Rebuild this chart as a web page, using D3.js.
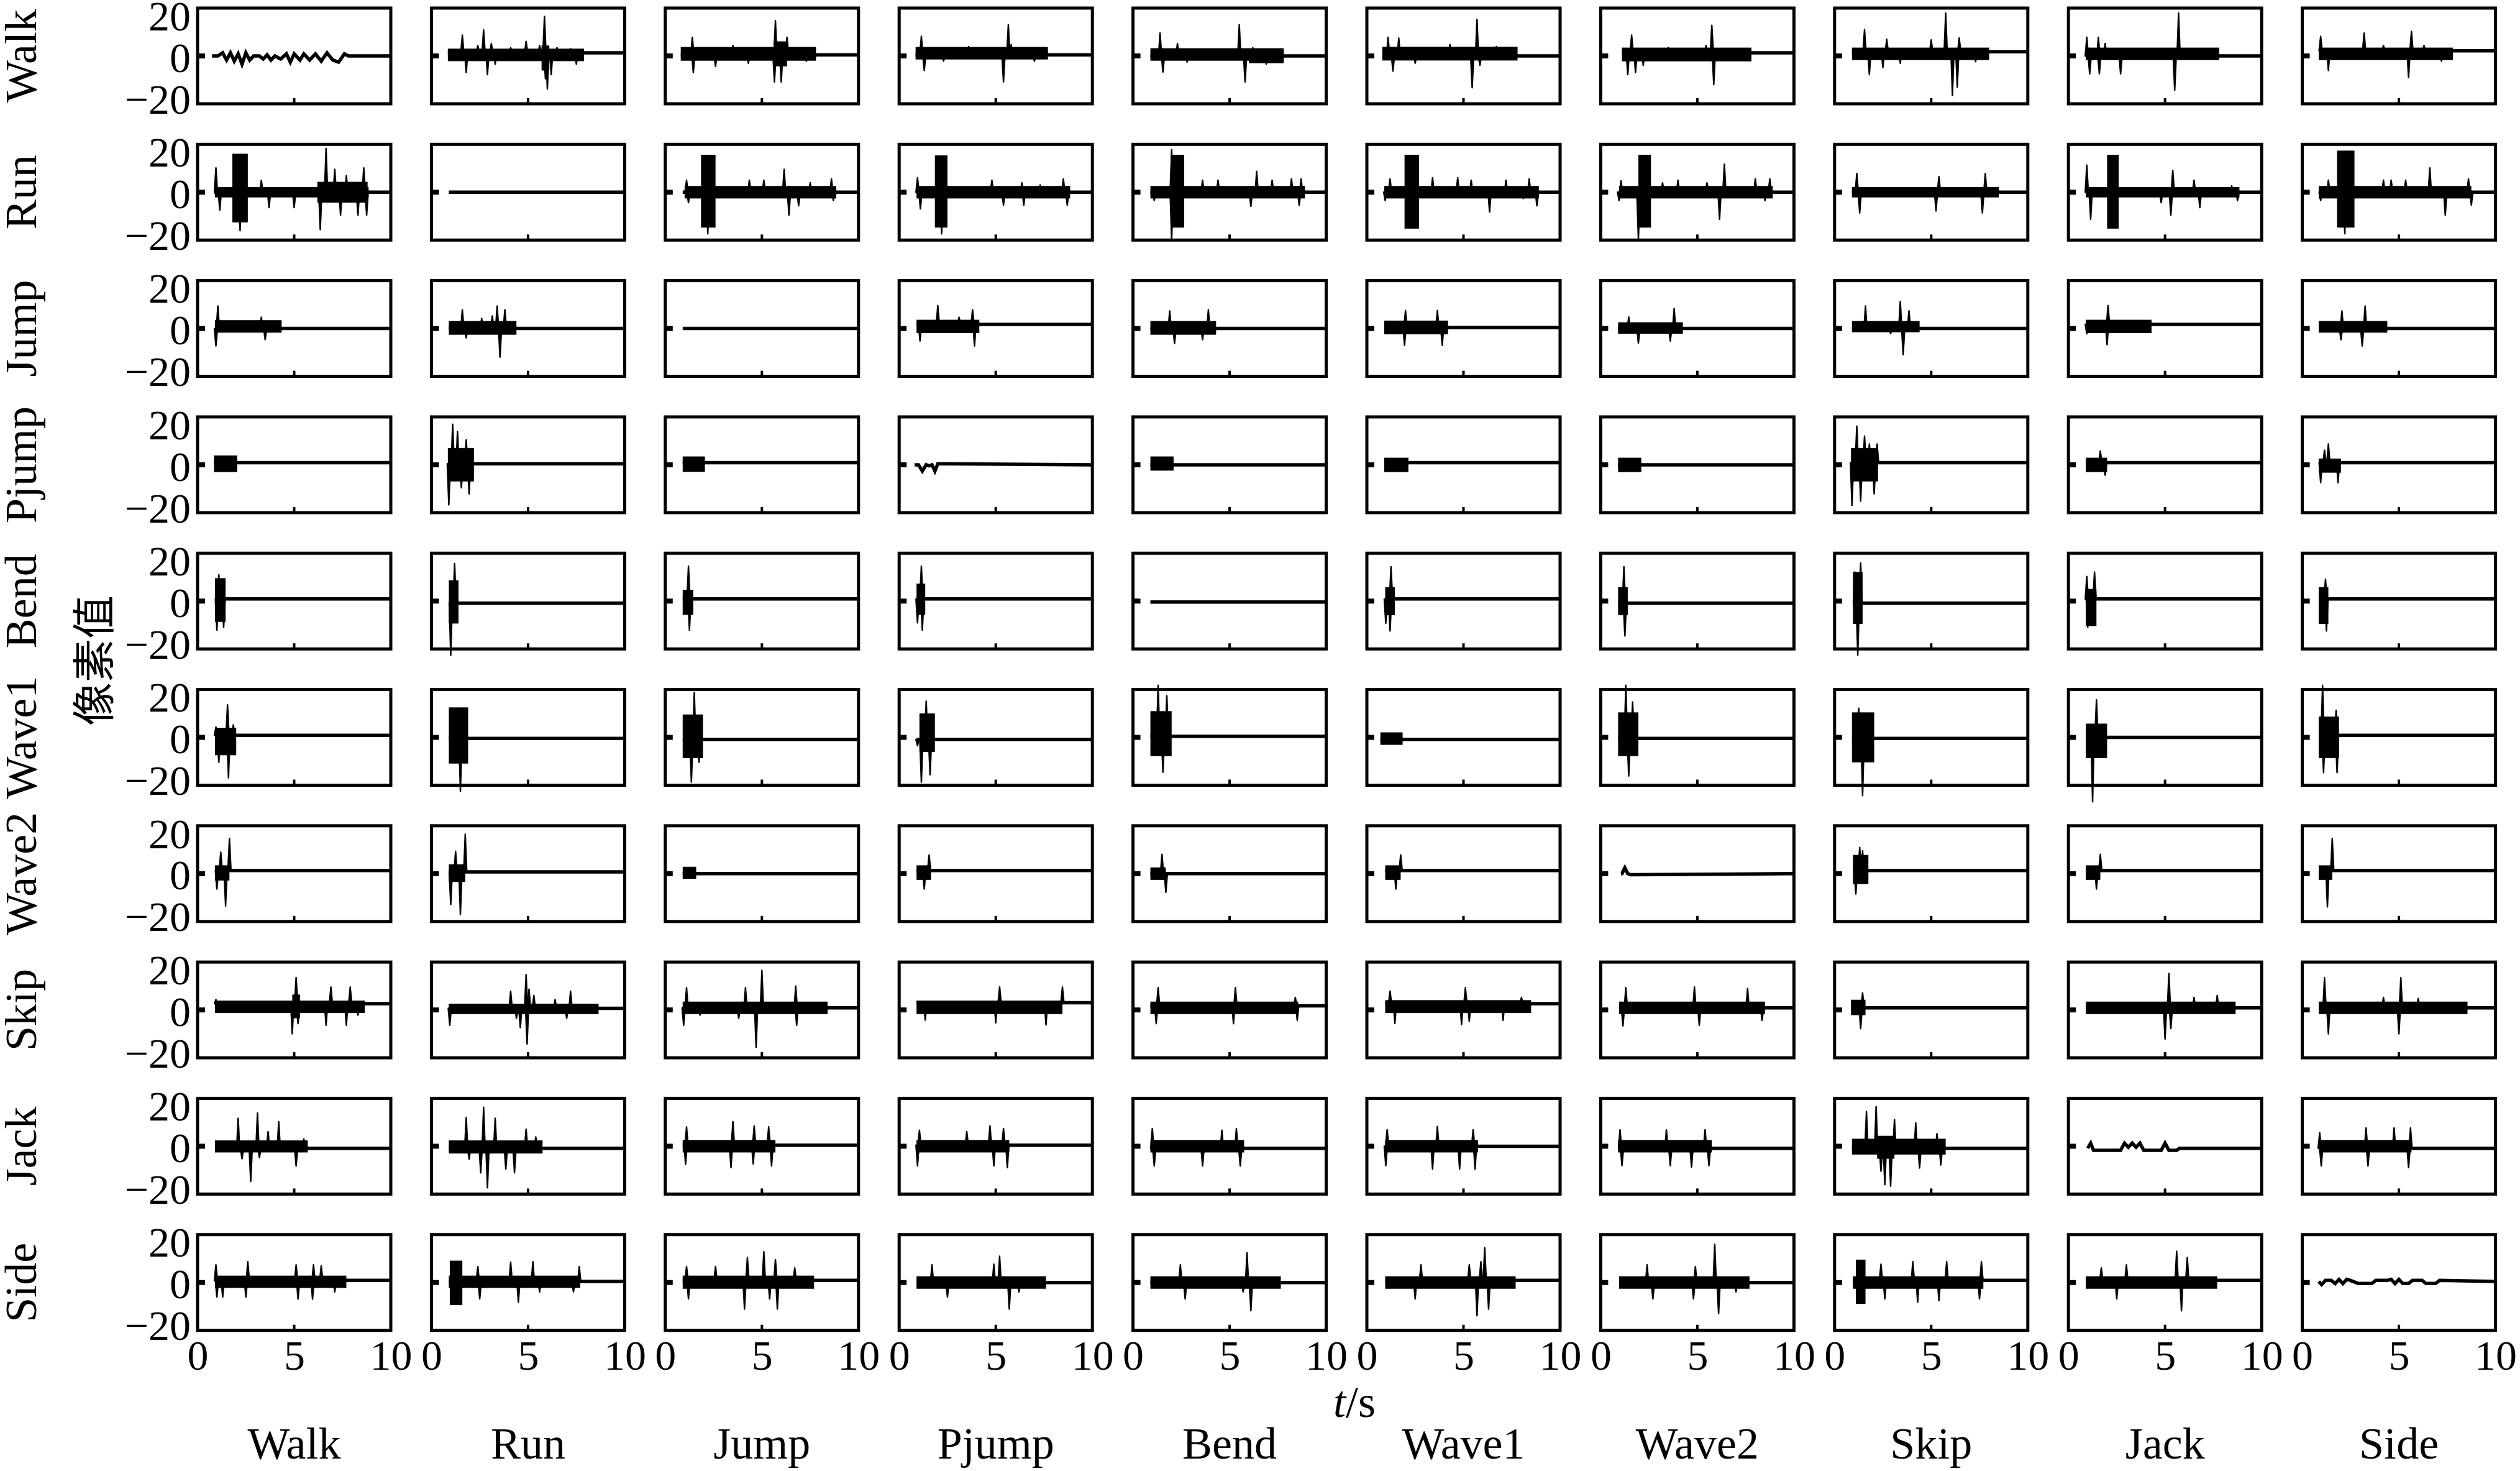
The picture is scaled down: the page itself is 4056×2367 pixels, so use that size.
<!DOCTYPE html>
<html>
<head>
<meta charset="utf-8">
<script src="https://cdn.jsdelivr.net/npm/d3@7"></script>
<style>
  body { margin: 0; background: #fff; }
  svg { display: block; }
  text { fill: #000; }
</style>
</head>
<body>
<div id="grid_plot"></div>
<script>
// Row / column action names and tick labels
const rowNames = ["Walk", "Run", "Jump", "Pjump", "Bend", "Wave1", "Wave2", "Skip", "Jack", "Side"];
const colNames = ["Walk", "Run", "Jump", "Pjump", "Bend", "Wave1", "Wave2", "Skip", "Jack", "Side"];
const xTicks = [0, 5, 10];
const yTicks = [-20, 0, 20];

// Each panel: start time of the trace, flat level, dense noise bands [t0, t1, lo, hi],
// spikes [t, value], and for the quiet diagonal panels a plain trace of [t, value] points
const walkRow = [
  {start: 0.75, base: 0, bands: [], spikes: [], trace: [[1.05,0],[1.3,1.5],[1.5,-2],[1.7,1.5],[1.9,-2.5],[2.1,1],[2.3,-4],[2.5,1.5],[2.7,-2],[2.9,0],[3.2,0],[3.4,-1.5],[3.6,0.5],[3.8,-2],[4.0,0],[4.3,-1.5],[4.6,1],[4.8,-3],[5.0,1],[5.3,-2],[5.5,1],[5.8,-2],[6.1,1],[6.4,-2.5],[6.7,1.5],[7.0,-2],[7.3,-3],[7.6,1],[7.8,0]]},
  {start: 0.85, base: 1.5, bands: [[0.85,7.9,-2.5,3.5],[5.7,6.1,-7,5]], spikes: [[1.6,10],[1.8,-8],[2.4,5],[2.7,12.5],[2.9,-9],[3.1,6],[3.3,-4],[4.1,4],[4.9,7],[5.6,5],[5.85,19],[5.9,-11],[6.0,-16],[6.2,-9],[6.5,4],[7.2,3.5],[7.5,-4]]},
  {start: 0.8, base: 0.5, bands: [[0.8,7.8,-2.3,4.3],[5.6,6.3,-5,7]], spikes: [[1.4,9],[1.45,-8],[2.6,-5],[3.5,5],[4.3,-3.5],[5.7,17],[5.65,-12.5],[6.0,-12.5],[6.3,9],[7.3,-2.5]]},
  {start: 0.85, base: 0.5, bands: [[0.85,7.7,-1.7,4.3]], spikes: [[1.15,9.4],[1.3,-7],[2.3,-2.5],[3.6,4.5],[5.4,-12.5],[5.65,15],[5.8,5.5],[7.0,-2.5]]},
  {start: 0.9, base: 0, bands: [[0.9,7.8,-2.3,3.7],[6.0,7.8,-3.5,3]], spikes: [[1.4,11],[1.55,-7.7],[2.3,6],[2.8,-3],[5.5,15],[5.8,-12.5],[6.2,4],[6.9,-4]]},
  {start: 0.8, base: 0, bands: [[0.8,7.8,-2.2,4.4]], spikes: [[1.1,9],[1.35,-7.3],[1.65,8.6],[2.5,-3.5],[4.3,5.5],[5.45,-15.3],[5.7,17.6],[5.85,-4.5],[6.7,4.5]]},
  {start: 1.1, base: 1.5, bands: [[1.1,7.8,-2.6,4]], spikes: [[1.4,-9],[1.6,10],[1.8,-8],[2.2,-4.5],[3.5,4],[5.45,5],[5.75,14.7],[5.85,-13.8],[6.5,3.5]]},
  {start: 0.9, base: 2, bands: [[0.9,8.0,-2,4]], spikes: [[1.55,12.6],[1.8,-9],[2.5,-5.6],[2.7,8],[3.4,-3.5],[5.0,7.7],[5.75,20.6],[6.1,-19],[6.35,-15],[6.45,8.6],[7.3,-2.8]]},
  {start: 0.9, base: 0, bands: [[0.9,7.8,-2,4]], spikes: [[0.95,9],[1.1,-8.6],[1.55,9],[1.6,-8.6],[1.9,6],[2.7,-8.6],[5.5,-16.5],[5.7,20.6]]},
  {start: 0.85, base: 2.5, bands: [[0.85,7.8,-2,4]], spikes: [[0.95,9.4],[1.35,-7],[3.2,11],[4.2,5],[5.5,-10.4],[5.65,11.8],[6.3,5],[7.2,-2.5]]}
];

const runRow = [
  {start: 0.87, base: 0, bands: [[0.9,8.85,-2.5,2.5],[1.8,2.6,-14.5,18.5],[6.2,8.8,-5,5]], spikes: [[0.95,11.7],[1.15,-8.6],[2.2,-18.5],[3.3,5.7],[3.7,-7.4],[5.0,-7.4],[6.35,-18],[6.65,21],[7.1,11],[7.4,-11],[7.7,8],[8.3,-11],[8.6,11.7],[8.75,-11]]},
  {start: 0.9, base: 0, bands: [], spikes: []},
  {start: 0.9, base: 0, bands: [[1.0,8.85,-3,3],[1.85,2.6,-17,18]], spikes: [[1.1,5.8],[1.2,-5],[2.2,-20],[4.35,5.8],[5.1,5.8],[6.15,11],[6.4,-11],[6.9,-6.5],[7.5,4.5],[8.6,6.4],[8.7,-4]]},
  {start: 0.88, base: 0, bands: [[0.9,8.85,-3,3],[1.85,2.5,-17,17.7]], spikes: [[0.95,7],[1.1,-8],[2.2,-20],[4.8,5.8],[5.4,-6.2],[6.35,4.5],[6.45,-6.2],[7.3,3.5],[8.5,6.4],[8.7,-6.2]]},
  {start: 0.9, base: 0, bands: [[0.9,8.9,-3,3],[1.95,2.65,-17,18]], spikes: [[1.1,-4],[2.0,20.4],[2.0,-23],[3.6,5.8],[4.4,5.8],[6.1,-6.8],[6.4,10],[7.2,5.8],[8.2,6.4],[8.6,-6.2],[8.7,6.4]]},
  {start: 0.9, base: 0, bands: [[0.9,8.9,-3,3],[1.95,2.7,-17.5,18]], spikes: [[0.95,-4],[1.2,6.4],[3.4,7],[4.7,7],[5.4,5.8],[6.35,-9.5],[7.2,5.8],[8.1,-3],[8.4,6.4],[8.8,-6.5]]},
  {start: 0.95, base: 0, bands: [[0.95,8.9,-3,3],[1.95,2.6,-17,18]], spikes: [[1.05,5.5],[0.95,-4],[1.95,-23],[3.2,4.5],[4.0,5.8],[5.5,4.5],[6.15,-13],[6.4,13.5],[8.0,6.4],[8.5,-4],[8.75,6.4]]},
  {start: 0.9, base: 0, bands: [[0.9,8.5,-2.5,2.5]], spikes: [[1.15,9],[1.3,-10],[5.25,-9],[5.4,7.5],[7.65,-10],[7.8,9]]},
  {start: 0.9, base: 0, bands: [[0.9,8.85,-2.5,2.5],[2.0,2.6,-17.5,18]], spikes: [[0.95,13],[1.15,-13],[4.8,-5],[5.3,-11],[5.4,10.5],[6.5,5.8],[6.8,-7.4],[8.45,3],[8.75,-4]]},
  {start: 0.85, base: 0, bands: [[0.85,8.75,-3,3],[1.8,2.7,-17,20]], spikes: [[0.95,-4],[1.35,5.8],[2.2,-20],[4.2,5.8],[4.6,5.8],[5.35,5.8],[6.6,11.7],[7.4,-11],[8.6,6.4],[8.75,-6.2]]}
];

const jumpRow = [
  {start: 0.9, base: 0, bands: [[0.9,4.35,-2,4]], spikes: [[1.05,10.8],[0.95,-8.4],[3.3,5.4],[3.5,-5.4]]},
  {start: 0.9, base: 0, bands: [[0.9,4.4,-3,3.6]], spikes: [[1.6,9],[1.8,-4.5],[2.6,4.8],[3.15,6],[3.4,10.8],[3.55,-13.8],[3.8,9]]},
  {start: 0.9, base: 0, bands: [], spikes: []},
  {start: 0.9, base: 2, bands: [[0.9,4.15,-2.2,4.2]], spikes: [[1.08,-6],[2.0,11],[3.1,5.4],[3.8,9],[3.9,-8.4]]},
  {start: 0.9, base: 0, bands: [[0.9,4.3,-3,3.6]], spikes: [[1.9,8.4],[2.15,-7.2],[3.6,-5.4],[3.9,9]]},
  {start: 0.9, base: 0.5, bands: [[0.9,4.2,-2.8,3.8]], spikes: [[1.95,-8.1],[2.0,8.6],[3.65,8.6],[3.9,-8.1]]},
  {start: 0.9, base: 0, bands: [[0.9,4.25,-2.5,3]], spikes: [[1.45,5.5],[1.95,-7],[3.6,-6],[3.8,9.6]]},
  {start: 0.9, base: 0, bands: [[0.9,4.4,-1.8,3.6]], spikes: [[1.6,10.8],[2.9,-2.5],[3.4,13],[3.55,-12.6],[3.85,8.5]]},
  {start: 0.9, base: 2, bands: [[0.9,4.3,-2.2,4.2]], spikes: [[0.95,-2.5],[2.05,11],[2.0,-7.8]]},
  {start: 0.85, base: 0, bands: [[0.85,4.4,-2,3.6]], spikes: [[2.0,-5.4],[2.05,8.4],[3.25,10.8],[3.1,-8.4]]}
];

const pjumpRow = [
  {start: 0.85, base: 1, bands: [[0.85,2.05,-3.5,4.5]], spikes: []},
  {start: 0.85, base: 0.5, bands: [[0.85,2.2,-8,8]], spikes: [[0.9,-19.3],[1.1,19.5],[1.35,16],[1.55,-11],[1.8,12],[1.95,-14]]},
  {start: 0.9, base: 1, bands: [[0.9,2.05,-3.4,4]], spikes: []},
  {start: 0.8, base: 0, bands: [], spikes: [], trace: [[1.0,0],[1.2,-3],[1.4,0],[1.55,-0.5],[1.7,0],[1.85,-3],[2.0,0.5]]},
  {start: 0.9, base: 0, bands: [[0.9,2.1,-2.8,4]], spikes: []},
  {start: 0.9, base: 1, bands: [[0.9,2.15,-3.5,3.4]], spikes: []},
  {start: 0.9, base: 0, bands: [[0.9,2.1,-3.5,3.4]], spikes: []},
  {start: 0.85, base: 1, bands: [[0.85,2.25,-8,8]], spikes: [[0.9,-19.5],[1.15,18.6],[1.35,-17.5],[1.55,13.8],[1.8,10],[2.05,-14],[2.2,10]]},
  {start: 0.9, base: 1, bands: [[0.9,2.0,-3.5,3.4]], spikes: [[1.65,6.6],[1.9,-5]]},
  {start: 0.85, base: 1, bands: [[0.85,2.0,-3.8,3]], spikes: [[0.95,-8.6],[1.15,7],[1.35,10],[1.85,-8.6]]}
];

const bendRow = [
  {start: 0.9, base: 1, bands: [[0.9,1.45,-10,11]], spikes: [[1.0,-14],[1.1,12.6],[1.35,-12.6]]},
  {start: 0.9, base: -1, bands: [[0.9,1.4,-10.8,10]], spikes: [[1.0,-26],[1.2,18]]},
  {start: 0.9, base: 1, bands: [[0.9,1.45,-6.6,5.4]], spikes: [[1.2,16.8],[1.25,-14]]},
  {start: 0.9, base: 1, bands: [[0.9,1.35,-6.6,8.4]], spikes: [[0.95,-10.5],[1.15,16.8],[1.2,-14]]},
  {start: 0.9, base: -0.5, bands: [], spikes: []},
  {start: 0.95, base: 1, bands: [[0.95,1.45,-6.8,6.7]], spikes: [[0.98,-10.7],[1.25,16.5],[1.2,-14.4]]},
  {start: 0.9, base: -1, bands: [[0.9,1.4,-6.8,6.7]], spikes: [[1.2,16.5],[1.25,-16.8]]},
  {start: 0.95, base: -1, bands: [[0.95,1.45,-11,14]], spikes: [[1.05,14],[1.2,-26],[1.35,18.3]]},
  {start: 0.9, base: 1, bands: [[0.9,1.45,-12,5.8]], spikes: [[0.95,11.8],[1.0,-12.6],[1.35,14]]},
  {start: 0.85, base: 1, bands: [[0.85,1.35,-11,6.7]], spikes: [[1.2,10.5],[1.25,-14.4]]}
];

const wave1Row = [
  {start: 0.9, base: 1, bands: [[0.9,2.0,-8.6,4.6]], spikes: [[0.95,5],[1.1,-12],[1.55,15.6],[1.6,-19.5],[1.85,6]]},
  {start: 0.9, base: -0.5, bands: [[0.9,1.9,-12.6,14.4]], spikes: [[1.5,-26]]},
  {start: 0.9, base: -1, bands: [[0.9,1.95,-10,11]], spikes: [[1.35,-21.6],[1.5,21.6],[1.75,-12]]},
  {start: 0.9, base: -1, bands: [[1.05,1.85,-7,11.5]], spikes: [[0.95,-4],[1.15,-21.6],[1.4,17.4],[1.6,-18]]},
  {start: 0.9, base: 0.5, bands: [[0.9,2.0,-9,12.6]], spikes: [[1.3,25],[1.55,-16.8],[1.75,20]]},
  {start: 0.7, base: -1, bands: [[0.7,1.85,-3.6,2.4]], spikes: []},
  {start: 0.9, base: -0.5, bands: [[0.9,1.95,-9,12]], spikes: [[1.3,25],[1.45,-18.6],[1.65,17]]},
  {start: 0.9, base: -0.5, bands: [[0.9,2.05,-12,12]], spikes: [[1.45,-28],[1.25,14]]},
  {start: 0.9, base: 0, bands: [[0.9,2.0,-10,6.6]], spikes: [[1.25,-31],[1.45,18]]},
  {start: 0.85, base: 1, bands: [[0.85,1.9,-10,10]], spikes: [[1.05,25],[1.1,-17],[1.75,13],[1.8,-17]]}
];

const wave2Row = [
  {start: 0.9, base: 1.5, bands: [[0.9,1.65,-3.3,4]], spikes: [[1.0,-7.4],[1.2,10.3],[1.45,-15.6],[1.65,16.9]]},
  {start: 0.9, base: 0.8, bands: [[0.9,1.75,-4,4.5]], spikes: [[1.0,-14.8],[1.25,10.7],[1.5,-19.7],[1.75,19]]},
  {start: 0.9, base: 0, bands: [[0.9,1.6,-2.5,3.3]], spikes: []},
  {start: 0.9, base: 1.5, bands: [[0.9,1.65,-3,4]], spikes: [[1.3,-7.4],[1.55,9]]},
  {start: 0.9, base: 0, bands: [[0.9,1.7,-3,3]], spikes: [[1.5,9.3],[1.7,-9]]},
  {start: 0.95, base: 1.5, bands: [[0.95,1.75,-3,4]], spikes: [[1.15,-2.5],[1.5,-7.4],[1.75,9]]},
  {start: 1.05, base: 0, bands: [], spikes: [], trace: [[1.1,0],[1.25,2.8],[1.4,0],[1.55,-0.5]]},
  {start: 0.95, base: 1.5, bands: [[0.95,1.75,-5,9]], spikes: [[1.1,-9.8],[1.3,12.6],[1.45,11]]},
  {start: 0.9, base: 1.5, bands: [[0.9,1.65,-3,4]], spikes: [[1.45,-7.4],[1.65,9.3]]},
  {start: 0.85, base: 1.5, bands: [[0.85,1.55,-3,4]], spikes: [[1.3,-16],[1.55,17]]}
];

const skipRow = [
  {start: 0.9, base: 3, bands: [[0.9,8.65,-1.5,4.5],[4.9,5.3,-4,7.4]], spikes: [[0.95,5],[4.9,-11.5],[5.1,15.6],[5.2,-6.6],[6.65,-7.4],[6.9,11],[7.7,-7.4],[7.9,11],[8.3,-2.5]]},
  {start: 0.9, base: 0.8, bands: [[0.9,8.65,-2,3]], spikes: [[0.95,-7.4],[4.1,9],[4.4,-4],[4.6,-8.5],[4.9,17],[4.95,-16.4],[5.05,10],[5.3,7],[6.4,5],[7.0,-4],[7.2,9]]},
  {start: 0.9, base: 1, bands: [[0.9,8.4,-2,4]], spikes: [[0.95,-7.4],[1.1,10.7],[1.8,-2.5],[3.8,-4],[4.15,10.7],[4.7,-18],[5.0,19],[6.75,11.5],[6.8,-7.4]]},
  {start: 0.9, base: 3.5, bands: [[0.9,8.45,-2,4.5]], spikes: [[1.35,-4.9],[5.0,-6.2],[5.2,11],[7.6,-7.2],[8.45,11]]},
  {start: 0.9, base: 2, bands: [[0.9,8.55,-2,4]], spikes: [[1.3,10.7],[1.2,-6.6],[5.2,-6.6],[5.3,10.7],[8.4,6],[8.5,-5]]},
  {start: 0.95, base: 3, bands: [[0.95,8.5,-1.5,4.7]], spikes: [[1.2,9],[1.45,-6.5],[4.9,-7],[5.1,10.7],[5.3,-5.5],[7.05,-5],[8.0,6]]},
  {start: 0.95, base: 1, bands: [[0.95,8.5,-2,4]], spikes: [[1.3,10.7],[1.15,-7.7],[4.85,11],[5.1,-7.4],[7.6,10.3],[8.35,-5]]},
  {start: 0.85, base: 1, bands: [[0.85,1.6,-2.5,4.9]], spikes: [[1.35,-9],[1.45,8.2]]},
  {start: 0.9, base: 1, bands: [[0.9,8.65,-2,4]], spikes: [[5.0,-14],[5.2,17.5],[5.3,-9],[6.5,6],[7.7,7]]},
  {start: 0.85, base: 1, bands: [[0.85,8.55,-2,4]], spikes: [[1.15,15.5],[1.35,-11.5],[4.2,6],[5.0,-11.5],[5.1,15.5],[6.0,5.5]]}
];

const jackRow = [
  {start: 0.9, base: -1, bands: [[0.9,5.7,-3,2.8]], spikes: [[2.1,13.4],[2.3,-6],[2.75,-17],[3.1,16],[3.2,-5.5],[3.65,7],[4.2,11.8],[5.1,-9.5],[5.5,3.5]]},
  {start: 0.9, base: -1, bands: [[0.9,5.75,-3.5,2.8]], spikes: [[1.8,13.8],[1.95,-6.2],[2.55,-12.8],[2.7,18.7],[2.9,-20],[3.3,13.4],[3.85,-11],[4.3,-12.8],[4.9,8.2],[5.4,4.5]]},
  {start: 0.9, base: 0.5, bands: [[0.9,5.7,-3,3]], spikes: [[1.1,9.3],[1.05,-8.7],[3.4,-10.3],[3.5,11.8],[4.55,-8.5],[4.6,9.8],[5.35,9.3],[5.5,-9.5]]},
  {start: 0.9, base: 0.5, bands: [[0.9,5.7,-3,3]], spikes: [[0.95,-9.5],[1.05,7.7],[3.5,7],[4.7,9.8],[4.9,-9.5],[5.4,8.5],[5.6,-10.3]]},
  {start: 0.9, base: -1, bands: [[0.9,5.75,-3,3]], spikes: [[1.0,8.5],[1.1,-9.5],[3.6,-9.5],[4.6,7.7],[5.35,8.5],[5.55,-9.5]]},
  {start: 0.95, base: 0, bands: [[0.95,5.75,-3,3]], spikes: [[1.05,7.9],[0.98,-9.3],[3.4,-11],[3.65,9.5],[4.8,-11],[5.5,7.9],[5.6,-11]]},
  {start: 0.9, base: -1, bands: [[0.9,5.75,-3,3]], spikes: [[1.0,7.9],[1.1,-9.3],[3.4,7.9],[3.6,-9.3],[4.7,-10],[5.4,7.9],[5.6,-9.3]]},
  {start: 0.9, base: -1, bands: [[0.9,5.75,-4,3.6],[2.2,3.1,-6,5]], spikes: [[1.65,16.7],[2.15,19],[2.4,-12],[2.6,-18.5],[2.9,-19.3],[3.1,12.8],[4.2,11.2],[4.4,-10.5],[5.3,6],[5.5,-9]]},
  {start: 1.0, base: -1, bands: [], spikes: [], trace: [[1.15,1.5],[1.3,-2],[2.7,-2],[2.9,1.5],[3.1,-0.5],[3.3,1.5],[3.5,-0.5],[3.7,1.5],[3.9,-2],[4.8,-2],[5.0,1.5],[5.2,-2],[5.6,-2],[5.75,-1]]},
  {start: 0.85, base: -1, bands: [[0.85,5.65,-3,3]], spikes: [[0.9,6.5],[0.98,-9.5],[3.3,8.8],[3.4,-9.5],[4.75,8.8],[5.5,-10.3],[5.6,8.8]]}
];

const sideRow = [
  {start: 0.9, base: 1, bands: [[0.9,7.7,-2.6,3.3]], spikes: [[0.95,8.5],[1.0,-7],[1.3,-7],[2.6,10],[2.5,-7],[5.1,8.5],[5.2,-8],[5.95,-8],[6.0,8.5],[6.4,8],[7.1,-4.5]]},
  {start: 0.9, base: 0.5, bands: [[0.9,7.7,-2.6,3.3],[0.95,1.6,-10.8,10.5]], spikes: [[2.4,7.7],[2.5,-7.9],[4.1,9.8],[4.5,-9.5],[5.25,10],[5.6,-4.5],[7.35,-4.5],[7.65,7.7]]},
  {start: 0.9, base: 1, bands: [[0.9,7.7,-3,3.3]], spikes: [[1.1,7.7],[1.2,-7.9],[2.6,7.7],[4.1,-12.8],[4.25,12],[5.1,14.8],[5.4,-7.9],[5.7,11],[5.8,-12.8],[6.7,7]]},
  {start: 0.9, base: 0, bands: [[0.9,7.6,-3,3]], spikes: [[1.7,8.5],[2.5,-7],[4.9,8.8],[5.2,12.6],[5.7,-12.8],[6.2,-4.5]]},
  {start: 0.9, base: 0, bands: [[0.9,7.65,-3,3]], spikes: [[2.45,8.5],[2.7,-7.9],[5.7,-4.5],[5.9,14.3],[6.1,-13.6]]},
  {start: 0.95, base: 1, bands: [[0.95,7.7,-3,3]], spikes: [[2.5,-7.9],[2.8,8.5],[5.3,8.5],[5.7,-16],[5.9,10],[6.1,16.7],[6.3,-12.8]]},
  {start: 0.95, base: 0, bands: [[0.95,7.7,-3,3]], spikes: [[2.4,8.5],[2.7,-7.9],[4.8,-7.9],[4.9,7.7],[5.9,18.4],[6.1,-15],[7.0,-4.5]]},
  {start: 0.95, base: 1, bands: [[0.95,7.7,-3,3],[1.1,1.6,-10.3,11]], spikes: [[2.4,8.8],[2.6,-7.9],[4.05,10],[4.3,-9.5],[5.4,-8.7],[5.8,10],[7.5,-7.9],[7.6,10]]},
  {start: 0.9, base: 1, bands: [[0.9,7.7,-3,3]], spikes: [[1.7,7],[2.5,-7.9],[3.0,8.5],[5.6,15],[5.85,-13.6],[6.15,12]]},
  {start: 0.85, base: 0.5, bands: [], spikes: [], trace: [[1.0,-1],[1.2,1],[1.5,1],[1.7,-0.5],[1.9,1.5],[2.1,-0.5],[2.3,1.5],[2.5,1],[2.9,-0.5],[3.6,-0.5],[3.8,1],[4.4,1],[4.6,1.5],[4.8,-0.5],[5.0,1.5],[5.2,-0.5],[5.5,-0.5],[5.7,1],[6.2,1],[6.4,-0.5],[6.9,-0.5],[7.1,1]]}
];

const rows = [walkRow, runRow, jumpRow, pjumpRow, bendRow, wave1Row, wave2Row, skipRow, jackRow, sideRow];

// Layout
const W = 4056, H = 2367;
const left0 = 318, top0 = 13;
const pw = 311, ph = 154;
const colStep = 376.4, rowStep = 219.3;
const serif = "'Liberation Serif', 'Times New Roman', serif";

const svg = d3.select("#grid_plot")
  .append("svg")
    .attr("width", W)
    .attr("height", H);

svg.append("rect").attr("width", W).attr("height", H).attr("fill", "#fff");

const x = d3.scaleLinear().domain([0, 10]).range([0, pw]);
const y = d3.scaleLinear().domain([-23, 23]).range([ph, 0]);
const line = d3.line().x(d => x(d[0])).y(d => y(d[1]));

const spikeHalf = 0.08;

rows.forEach((row, r) => {
  row.forEach((p, c) => {
    const g = svg.append("g")
      .attr("transform", `translate(${left0 + c * colStep},${top0 + r * rowStep})`);

    // dense noise bands
    g.selectAll(".band")
      .data(p.bands)
      .join("rect")
        .attr("x", d => x(d[0]))
        .attr("width", d => x(d[1]) - x(d[0]))
        .attr("y", d => y(d[3]))
        .attr("height", d => y(d[2]) - y(d[3]))
        .attr("fill", "#000");

    // spikes
    g.selectAll(".spike")
      .data(p.spikes)
      .join("path")
        .attr("d", d => `M${x(d[0] - spikeHalf)},${y(p.base)}L${x(d[0])},${y(d[1])}L${x(d[0] + spikeHalf)},${y(p.base)}Z`)
        .attr("fill", "#000")
        .attr("stroke", "#000")
        .attr("stroke-width", 2.4)
        .attr("stroke-linejoin", "round");

    // trace: start, optional quiet wiggle, then flat to 10 s
    const pts = [[p.start, p.base]].concat(p.trace || [], [[10, p.base]]);
    g.append("path")
      .attr("d", line(pts))
      .attr("stroke", "#000")
      .attr("stroke-width", 5.5)
      .attr("stroke-linejoin", "miter")
      .attr("fill", "none");

    // frame
    g.append("rect")
      .attr("width", pw)
      .attr("height", ph)
      .attr("fill", "none")
      .attr("stroke", "#000")
      .attr("stroke-width", 5);

    // inner ticks: zero on the left, 5 s on the bottom
    g.append("line")
      .attr("x1", 0).attr("x2", 12)
      .attr("y1", y(0)).attr("y2", y(0))
      .attr("stroke", "#000").attr("stroke-width", 8);
    g.append("line")
      .attr("x1", x(5)).attr("x2", x(5))
      .attr("y1", ph).attr("y2", ph - 9)
      .attr("stroke", "#000").attr("stroke-width", 4);

    // y tick labels
    if (c === 0) {
      const ya = g.append("g")
        .call(d3.axisLeft(y).tickValues(yTicks).tickSize(0).tickPadding(11));
      ya.attr("font-family", null);
      ya.select(".domain").remove();
      ya.selectAll("text")
        .attr("dy", "0.37em")
        .style("font-family", serif)
        .style("font-size", "68px");
    }

    // x tick labels on the bottom row
    if (r === rows.length - 1) {
      const xa = g.append("g")
        .attr("transform", `translate(0,${ph})`)
        .call(d3.axisBottom(x).tickValues(xTicks).tickSize(0).tickPadding(15));
      xa.attr("font-family", null);
      xa.select(".domain").remove();
      xa.selectAll("text")
        .style("font-family", serif)
        .style("font-size", "68px");
    }
  });
});

// row labels
svg.selectAll(".rowLabel")
  .data(rowNames)
  .join("text")
    .attr("transform", (d, i) => `translate(58,${top0 + i * rowStep + ph / 2}) rotate(-90)`)
    .attr("text-anchor", "middle")
    .style("font-family", serif)
    .style("font-size", "72px")
    .text(d => d);

// column labels
svg.selectAll(".colLabel")
  .data(colNames)
  .join("text")
    .attr("x", (d, i) => left0 + i * colStep + pw / 2)
    .attr("y", 2347)
    .attr("text-anchor", "middle")
    .style("font-family", serif)
    .style("font-size", "72px")
    .text(d => d);

// x axis title
const xt = svg.append("text")
  .attr("x", 2180)
  .attr("y", 2280)
  .attr("text-anchor", "middle")
  .style("font-family", serif)
  .style("font-size", "72px");
xt.append("tspan").style("font-style", "italic").text("t");
xt.append("tspan").text("/s");

// y axis title
svg.append("text")
  .attr("transform", "translate(146,1063) rotate(-90)")
  .attr("text-anchor", "middle")
  .attr("dominant-baseline", "central")
  .style("font-family", "'Noto Sans CJK SC', sans-serif")
  .style("font-size", "70px")
  .text("像素值");
</script>
</body>
</html>
